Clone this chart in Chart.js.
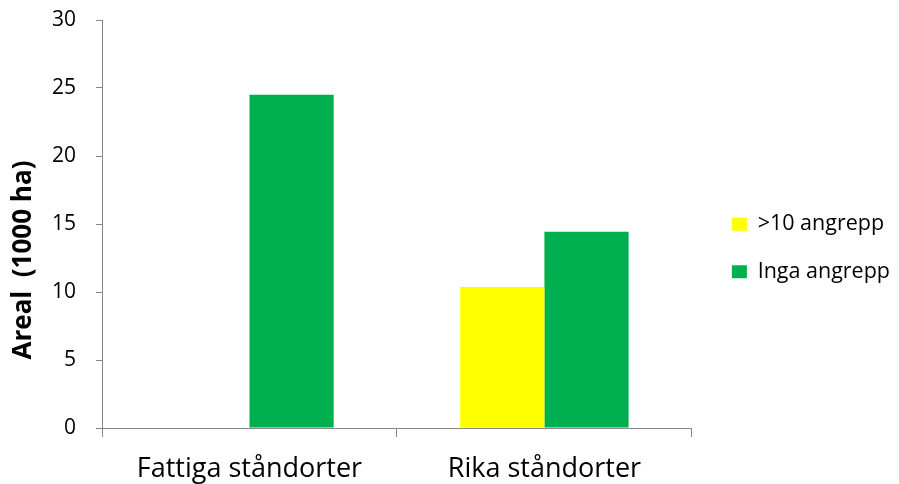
<!DOCTYPE html>
<html>
<head>
<meta charset="utf-8">
<script src="https://cdn.jsdelivr.net/npm/chart.js@4"></script>
<style>
  html, body { margin: 0; padding: 0; background: #fff; }
  #wrap { width: 899px; height: 484px; }
</style>
</head>
<body>
<div id="wrap"><canvas id="chart" width="899" height="484"></canvas></div>
<script>
// categories and series
const categories = ['Fattiga ståndorter', 'Rika ståndorter'];
const over10 = [0, 10.37];
const inga = [24.5, 14.43];
const yTicks = [0, 5, 10, 15, 20, 25, 30];
const yTitle = 'Areal  (1000 ha)';

const axisGrey = '#868686';
const fontFamily = '"Open Sans", "Noto Sans", sans-serif';

// y title sits lower than the plot centre in the original, so draw it by hand
const yTitlePlugin = {
    id: 'yTitle',
    afterDraw(chart) {
        const ctx = chart.ctx;
        ctx.save();
        ctx.translate(24, 260);
        ctx.rotate(-Math.PI / 2);
        ctx.font = 'bold 26px ' + fontFamily;
        ctx.fillStyle = '#000';
        ctx.textAlign = 'center';
        ctx.textBaseline = 'middle';
        ctx.fillText(yTitle, 0, 0);
        ctx.restore();
    }
};

// push the legend a bit further from the plot than its padding allows
const legendShift = {
    id: 'legendShift',
    afterLayout(chart) {
        const lg = chart.legend;
        lg.left += 14;
        lg.right += 14;
        lg.top -= 4;
        lg.bottom -= 4;
    }
};

const chart = new Chart(document.getElementById('chart'), {
    type: 'bar',
    data: {
        labels: categories,
        datasets: [{
            label: '>10 angrepp',
            data: over10,
            backgroundColor: '#ffff00'
        }, {
            label: 'Inga angrepp',
            data: inga,
            backgroundColor: '#00b050'
        }]
    },
    options: {
        responsive: false,
        animation: false,
        maintainAspectRatio: false,
        categoryPercentage: 0.571,
        barPercentage: 1,
        layout: {
            padding: { top: 20, left: 0, right: 13, bottom: 0 }
        },
        plugins: {
            tooltip: { enabled: false },
            legend: {
                position: 'right',
                labels: {
                    boxWidth: 15,
                    boxHeight: 13,
                    padding: 26,
                    color: '#000',
                    font: { family: fontFamily, size: 21.5 }
                }
            }
        },
        scales: {
            x: {
                afterFit: (scale) => {
                    scale.height = 56;
                    scale.paddingLeft = 0;
                    scale.paddingRight = 0;
                },
                border: { color: axisGrey, width: 1 },
                grid: {
                    drawOnChartArea: false,
                    drawTicks: true,
                    tickLength: 9,
                    color: axisGrey
                },
                ticks: {
                    color: '#000',
                    padding: 16,
                    font: { family: fontFamily, size: 27 }
                }
            },
            y: {
                min: 0,
                max: 30,
                afterBuildTicks: (axis) => {
                    axis.ticks = yTicks.map(v => ({ value: v }));
                },
                afterFit: (scale) => {
                    scale.width = 102;
                    scale.paddingTop = 0;
                    scale.paddingBottom = 0;
                },
                border: { color: axisGrey, width: 1 },
                grid: {
                    drawOnChartArea: false,
                    drawTicks: true,
                    tickLength: 6,
                    color: axisGrey
                },
                ticks: {
                    color: '#000',
                    padding: 20,
                    font: { family: fontFamily, size: 21 }
                }
            }
        }
    },
    plugins: [yTitlePlugin, legendShift]
});
</script>
</body>
</html>
